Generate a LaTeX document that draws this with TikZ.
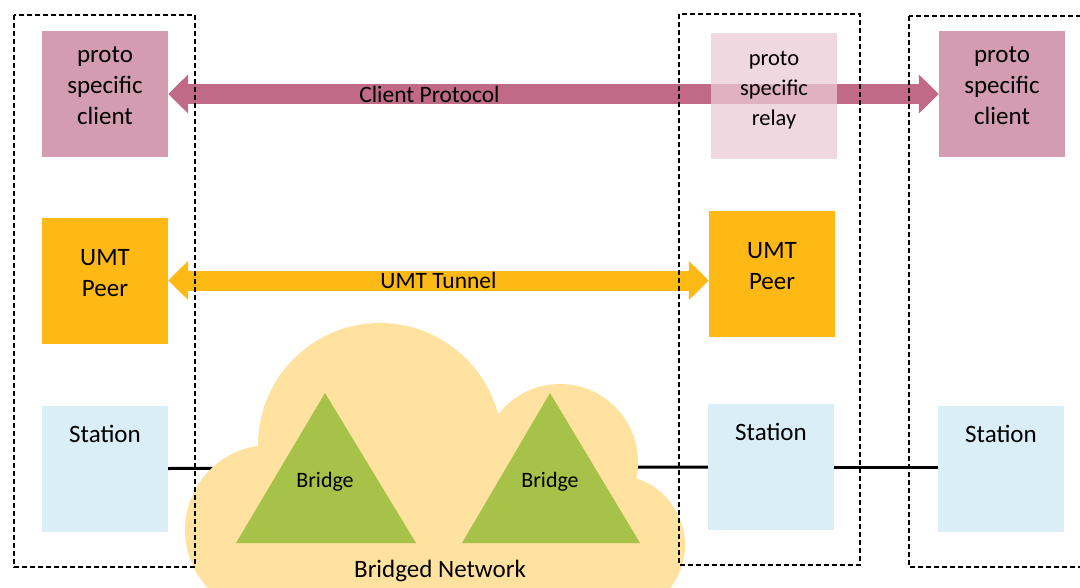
\documentclass[tikz,border=0pt]{standalone}
\usepackage{fontspec}
\setmainfont{Carlito}
\usetikzlibrary{arrows.meta}

\definecolor{clientpink}{HTML}{D49CB0}
\definecolor{protoarrow}{HTML}{C06A88}
\definecolor{relaypink}{HTML}{EBCBD5}
\definecolor{umtorange}{HTML}{FFB914}
\definecolor{stationblue}{HTML}{DAEEF7}
\definecolor{cloudyellow}{HTML}{FFE29F}
\definecolor{bridgegreen}{HTML}{A6C249}

\tikzset{
  box/.style={minimum width=126pt, minimum height=126pt, inner sep=0pt, align=center, font=\fontsize{25}{31}\selectfont},
  client/.style={box, fill=clientpink, text depth=17pt},
  relay/.style={box, fill=relaypink, fill opacity=0.75, text opacity=1, text depth=15pt, font=\fontsize{22.5}{30}\selectfont},
  umt/.style={box, fill=umtorange, text depth=16pt},
  station/.style={box, fill=stationblue, text depth=70pt},
  group/.style={draw, dash pattern=on 5pt off 3pt, line width=1.2pt},
  bigarrow/.style={line width=20pt, {Triangle[width=38pt,length=20pt]}-{Triangle[width=38pt,length=20pt]}},
  arrowlabel/.style={text=black, font=\fontsize{23.5}{26}\selectfont},
  wire/.style={line width=3pt},
}

\begin{document}
\begin{tikzpicture}[x=1pt, y=-1pt]
  \useasboundingbox (0,0) rectangle (1080,587);

  % stations and wires
  \node[station] (stL) at (105,468.5) {Station};
  \node[station] (stM) at (771,467) {Station};
  \node[station] (stR) at (1001,469) {Station};
  \draw[wire] (stL.east) -- (stM.west);
  \draw[wire] (stM.east) -- (stM.east -| stR.west);

  % bridged network
  \fill[cloudyellow] (270,530) circle (85pt);
  \fill[cloudyellow] (380,445) circle (122pt);
  \fill[cloudyellow] (560,462) circle (78pt);
  \fill[cloudyellow] (615,545) circle (70pt);
  \fill[cloudyellow] (250,450) rectangle (630,600);
  \fill[bridgegreen] (236,543) -- (325,393) -- (416,543) -- cycle;
  \fill[bridgegreen] (462,543) -- (550,393) -- (640,543) -- cycle;
  \node[font=\fontsize{22}{26}\selectfont] (br1) at (325,482) {Bridge};
  \node[font=\fontsize{22}{26}\selectfont] (br2) at (550,482) {Bridge};
  \node[font=\fontsize{25}{30}\selectfont] (net) at (440,571) {Bridged Network};

  % client protocol
  \node[client] (cliL) at (105,94) {proto\\specific\\client};
  \node[client] (cliR) at (1002,94) {proto\\specific\\client};
  \draw[bigarrow, protoarrow] (cliL.east) -- (cliL.east -| cliR.west)
    node[arrowlabel, pos=0.339] {Client Protocol};
  \node[relay] (relay) at (774,96) {proto\\specific\\relay};

  % umt tunnel
  \node[umt] (umtL) at (105,280.5) {UMT\\Peer};
  \node[umt] (umtR) at (772,274) {UMT\\Peer};
  \draw[bigarrow, umtorange] (umtL.east) -- (umtL.east -| umtR.west)
    node[arrowlabel, midway] {UMT Tunnel};

  % hosts
  \draw[group] (14,15) rectangle (195,567);
  \draw[group] (679,14) rectangle (860,565);
  \draw[group] (909,16) rectangle (1100,567);
\end{tikzpicture}
\end{document}
